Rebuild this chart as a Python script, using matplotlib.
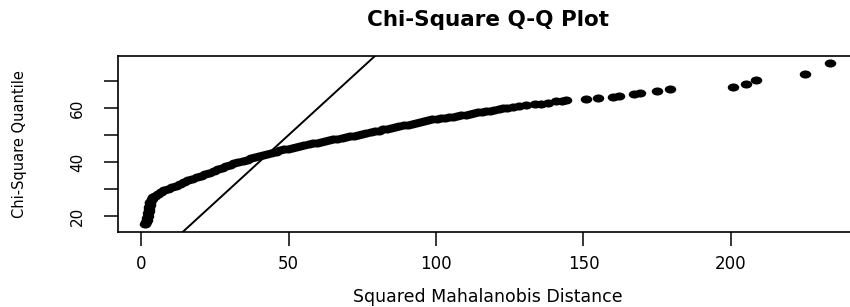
import numpy as np
import matplotlib
matplotlib.use("Agg")
import matplotlib.pyplot as plt
from matplotlib.path import Path

# squared mahalanobis distances (sorted)
mahal_d2 = [
    1.4, 1.7, 1.9, 2.1, 2.3, 2.4, 2.6, 2.7, 2.8, 2.9, 3.0, 3.1,
    3.6, 4.2, 4.9, 5.8, 6.8, 7.9, 9.2, 10.5, 11.8, 13.2, 14.6, 16.0,
    17.4, 18.9, 20.4, 21.8, 23.2, 24.6, 26.0, 27.4, 28.8, 30.2, 31.6, 33.0,
    34.4, 35.8, 37.2, 38.6, 40.0, 41.4, 42.8, 44.2, 45.6, 47.0, 48.4, 49.8,
    51.2, 52.6, 54.0, 55.4, 56.8, 58.2, 59.6, 61.0, 62.4, 63.8, 65.2, 66.6,
    68.0, 69.4, 70.8, 72.2, 73.6, 75.0, 76.4, 77.8, 79.2, 80.6, 82.0, 83.4,
    84.8, 86.2, 87.6, 89.0, 90.4, 91.8, 93.2, 94.6, 96.0, 97.4, 98.8, 100.2,
    101.6, 103.0, 104.4, 105.8, 107.2, 108.6, 110.0, 111.4, 112.8, 114.2, 115.6, 117.0,
    118.4, 119.8, 121.2, 122.6, 124.2, 126.0, 128.2, 130.5, 133.4, 135.5, 138.1, 140.8,
    142.7, 144.2, 150.8, 154.8, 159.9, 162.1, 167.1, 169.2, 174.8, 179.3, 200.6, 205.1,
    208.4, 225.1, 233.6,
]

# matching chi-square quantiles
chisq_q = [
    16.9, 17.8, 18.6, 19.4, 20.2, 21.0, 21.8, 22.6, 23.4, 24.1, 24.8, 25.4,
    26.2, 27.0, 27.6, 28.3, 28.9, 29.5, 30.2, 30.7, 31.3, 31.9, 32.6, 33.2,
    33.8, 34.4, 35.0, 35.6, 36.1, 36.6, 37.3, 37.9, 38.4, 38.9, 39.5, 40.0,
    40.5, 40.9, 41.4, 41.9, 42.3, 42.7, 43.1, 43.5, 43.9, 44.3, 44.7, 45.0,
    45.3, 45.7, 46.0, 46.3, 46.6, 46.9, 47.2, 47.5, 47.8, 48.1, 48.4, 48.7,
    49.0, 49.3, 49.5, 49.8, 50.1, 50.4, 50.7, 51.0, 51.4, 51.7, 52.1, 52.4,
    52.7, 53.0, 53.3, 53.6, 53.9, 54.2, 54.5, 54.8, 55.2, 55.6, 55.9, 56.1,
    56.3, 56.5, 56.6, 56.8, 57.1, 57.4, 57.6, 57.9, 58.1, 58.4, 58.6, 58.9,
    59.1, 59.3, 59.6, 59.9, 60.2, 60.5, 60.7, 61.1, 61.5, 61.6, 61.8, 62.5,
    62.8, 63.0, 63.3, 63.7, 64.1, 64.4, 65.2, 65.6, 66.3, 66.9, 67.9, 69.0,
    70.4, 72.5, 76.8,
]

x_ticks = [0, 50, 100, 150, 200]
y_ticks = [20, 30, 40, 50, 60, 70]
y_tick_labels = ["20", "", "40", "", "60", ""]

plt.rcParams['font.family'] = ['DejaVu Sans']

fig = plt.figure(figsize=(8.5, 3.07), dpi=100)
# right spine falls outside the picture, as in the reference
ax = fig.add_axes([0.1392, 0.2433, 0.870, 0.5743])

# flattened dot, like the stretched R pch=19 points
circ = Path.unit_circle()
dot = Path(circ.vertices * np.array([1.0, 0.7]), circ.codes)

ax.plot(mahal_d2, chisq_q, linestyle='none', marker=dot, markersize=8.3,
        color='black', markeredgewidth=0)
ax.axline((0, 0), slope=1, color='black', linewidth=1.4)

ax.set_xlim(-7.7, 243.0)
ax.set_ylim(14.0, 79.3)

ax.set_xticks(x_ticks)
ax.set_xticklabels([str(t) for t in x_ticks])
ax.set_yticks(y_ticks)
ax.set_yticklabels(y_tick_labels, rotation=90, va='center')

ax.tick_params(axis='x', length=10, width=1.1, labelsize=12, pad=6)
ax.tick_params(axis='y', length=10, width=1.1, labelsize=11, pad=14)

for s in ax.spines.values():
    s.set_linewidth(1.2)

ax.set_xlabel("Squared Mahalanobis Distance", fontsize=12.5)
ax.xaxis.set_label_coords(0.5, -0.367)
ax.xaxis.label.set_va('center')
ax.set_ylabel("Chi-Square Quantile", fontsize=10.5)
ax.yaxis.set_label_coords(-0.134, 0.5)
ax.yaxis.label.set_va('center')

ax.text(0.5, 1.204, "Chi-Square Q-Q Plot", transform=ax.transAxes,
        fontsize=15.5, fontweight='bold', ha='center', va='center')

fig.savefig("out.png", dpi=100)
